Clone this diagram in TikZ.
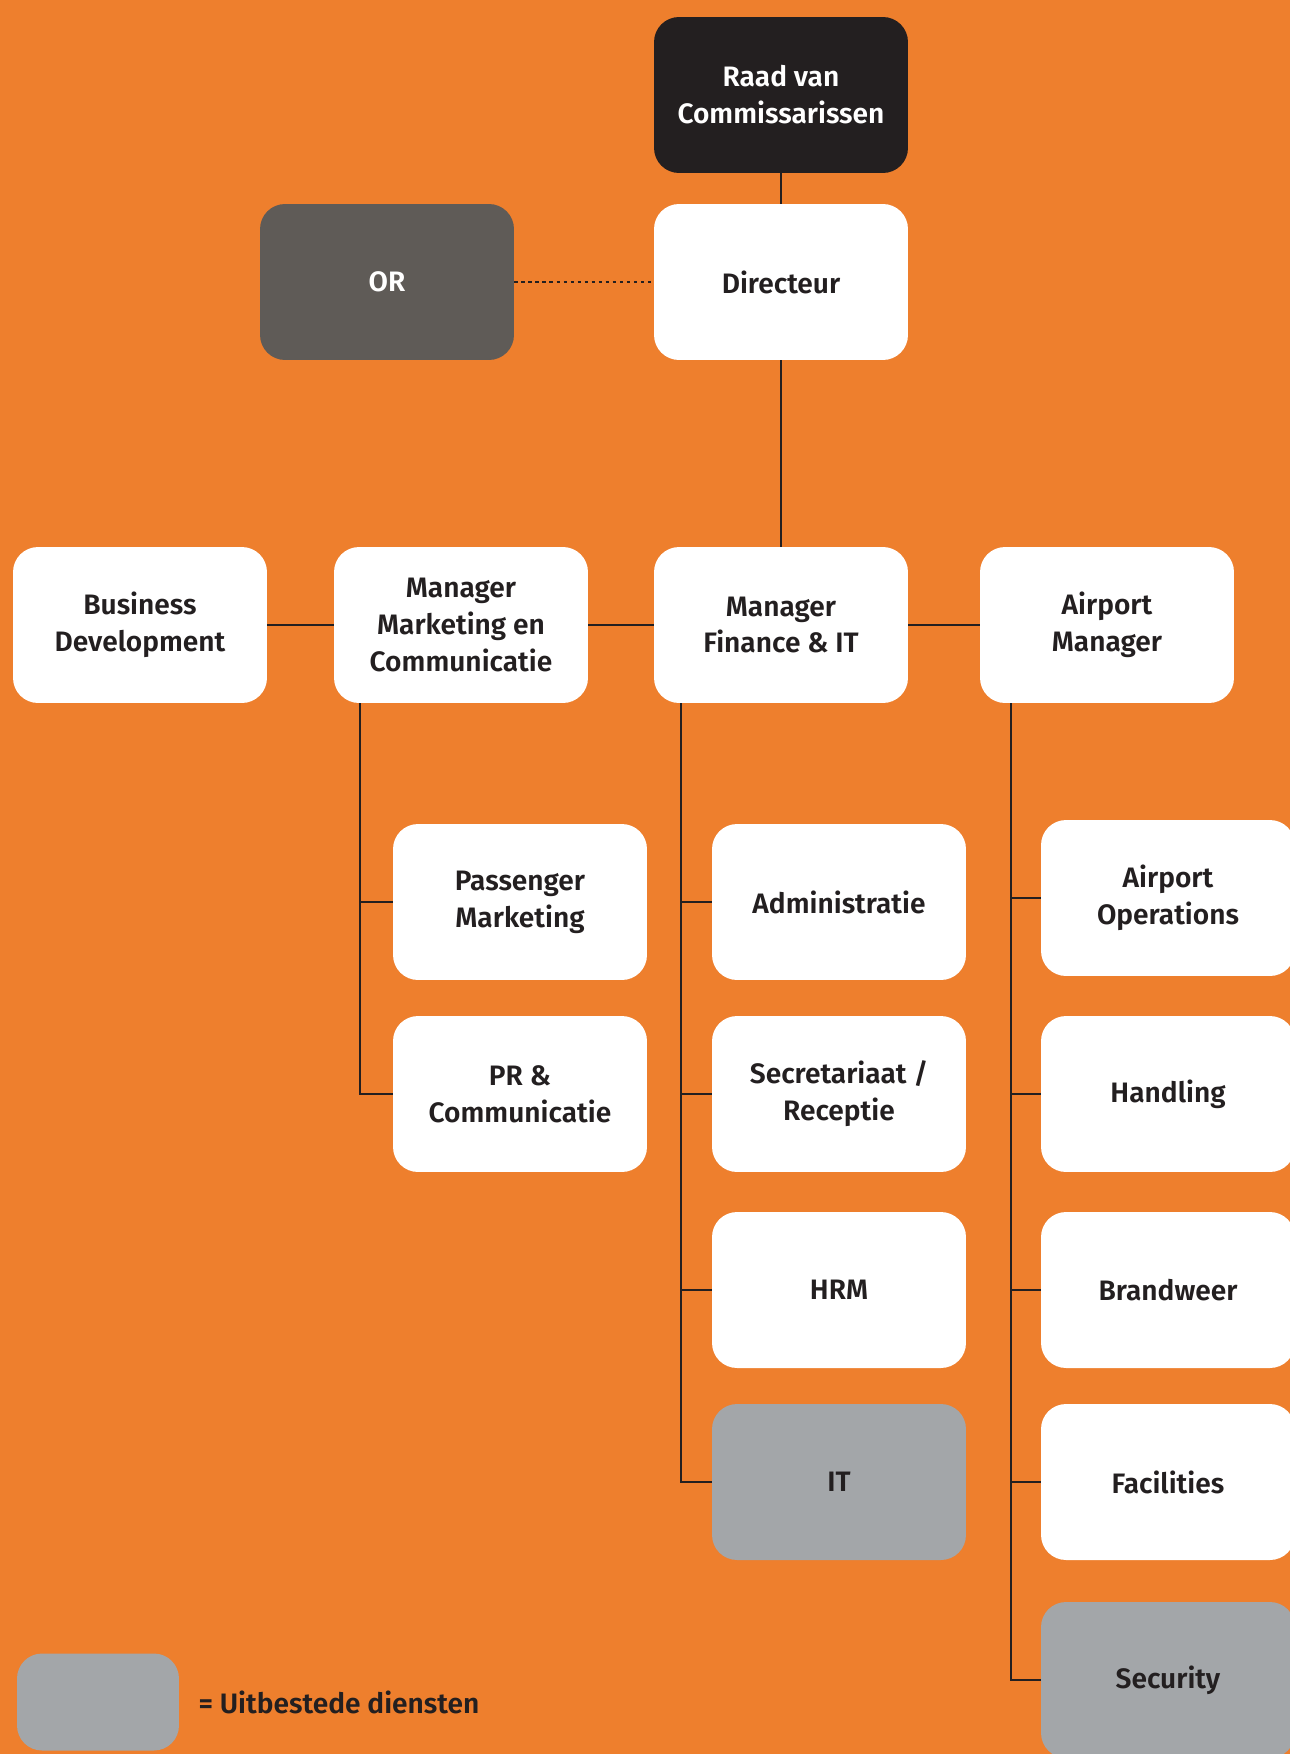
\documentclass[tikz,border=0pt]{standalone}
\usepackage{fontspec}
\setmainfont{Fira Sans}[BoldFont={Fira Sans SemiBold}]
\usepackage{xcolor}
\usepackage{tikz}
\usetikzlibrary{positioning}

\definecolor{oranje}{HTML}{EE7F2D}
\definecolor{zwart}{HTML}{231F20}
\definecolor{donkergrijs}{HTML}{5F5B57}
\definecolor{grijs}{HTML}{A3A6A9}

\begin{document}
\begin{tikzpicture}[x=0.02cm, y=-0.02cm,
    box/.style={rounded corners=0.5cm, minimum width=5.08cm, minimum height=3.12cm,
      fill=white, text=zwart, align=center, font=\bfseries\fontsize{16}{21}\selectfont},
    extern/.style={box, fill=grijs},
    line/.style={draw=zwart, line width=1.1pt}]
  \clip (0,0) rectangle (1290,1754);
  \fill[oranje] (0,0) rectangle (1290,1754);

  % top
  \node[box, fill=zwart, text=white] (rvc) at (781,95) {Raad van\\Commissarissen};
  \node[box] (dir) at (781,282) {Directeur};
  \node[box, fill=donkergrijs, text=white] (or) at (387,282) {OR};

  % managers
  \node[box] (bd)  at (140,625)  {Business\\Development};
  \node[box] (mmc) at (461,625)  {Manager\\Marketing en\\Communicatie};
  \node[box] (mfi) at (781,625)  {Manager\\Finance \& IT};
  \node[box] (apm) at (1107,625) {Airport\\Manager};

  % marketing
  \node[box] (pm) at (520,902)  {Passenger\\Marketing};
  \node[box] (pr) at (520,1094) {PR \&\\Communicatie};

  % finance
  \node[box] (adm) at (839,902)  {Administratie};
  \node[box] (sec) at (839,1094) {Secretariaat /\\Receptie};
  \node[box] (hrm) at (839,1290) {HRM};
  \node[extern] (it) at (839,1482) {IT};

  % airport
  \node[box] (ops) at (1168,898)  {Airport\\Operations};
  \node[box] (hdl) at (1168,1094) {Handling};
  \node[box] (bw)  at (1168,1290) {Brandweer};
  \node[box] (fac) at (1168,1482) {Facilities};
  \node[extern] (sco) at (1168,1680) {Security};

  % legenda
  \node[extern, minimum width=3.24cm, minimum height=1.94cm] (leg) at (98,1702) {};
  \node[right=0.26cm of leg, text=zwart, font=\bfseries\fontsize{16}{21}\selectfont] (legtxt) {= Uitbestede diensten};

  \path[line]
  (rvc) edge (dir)
  (dir) edge (mfi)
  (bd) edge (mmc)
  (mmc) edge (mfi)
  (mfi) edge (apm)
  ;
  \path[line, dash pattern=on 2pt off 2pt]
  (or) edge (dir)
  ;

  \coordinate (mk) at ([xshift=0.52cm]mmc.south west);
  \coordinate (fi) at ([xshift=0.54cm]mfi.south west);
  \coordinate (ap) at ([xshift=0.62cm]apm.south west);

  \draw[line] (mk) |- (pr.west);
  \draw[line] (mk |- pm.west) -- (pm.west);
  \draw[line] (fi) |- (it.west);
  \foreach \n in {adm,sec,hrm}
    \draw[line] (fi |- \n.west) -- (\n.west);
  \draw[line] (ap) |- (sco.west);
  \foreach \n in {ops,hdl,bw,fac}
    \draw[line] (ap |- \n.west) -- (\n.west);
\end{tikzpicture}
\end{document}
